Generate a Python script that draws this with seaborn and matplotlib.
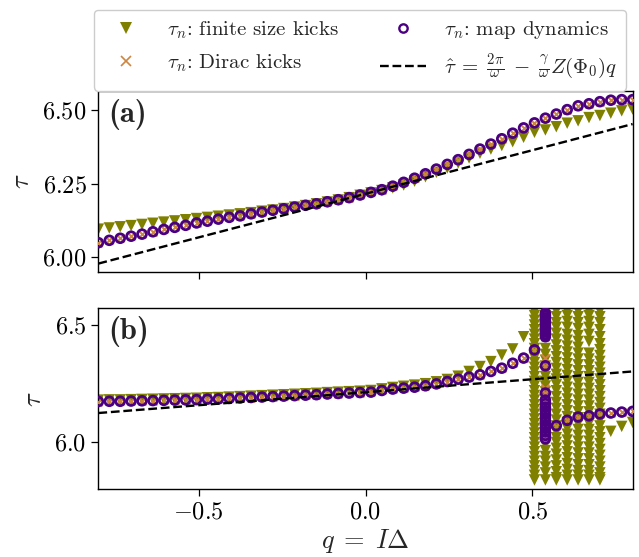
import numpy as np
import pandas as pd
import matplotlib
matplotlib.use("Agg")
import matplotlib.pyplot as plt
from matplotlib.lines import Line2D
from matplotlib.ticker import FixedLocator, FuncFormatter
import seaborn as sns

# ---------------- data ----------------
q = np.round(np.linspace(-0.8, 0.8, 50), 5)

# panel (a)
tau_map_a = [6.049, 6.057, 6.064, 6.071, 6.078, 6.086, 6.094, 6.101, 6.108, 6.116,
             6.122, 6.129, 6.135, 6.140, 6.147, 6.153, 6.159, 6.164, 6.170, 6.176,
             6.181, 6.188, 6.195, 6.202, 6.211, 6.220, 6.229, 6.241, 6.254, 6.268,
             6.283, 6.299, 6.315, 6.331, 6.349, 6.367, 6.384, 6.402, 6.421, 6.439,
             6.456, 6.472, 6.486, 6.501, 6.514, 6.521, 6.528, 6.533, 6.535, 6.535]
tau_dirac_a = list(tau_map_a)
tau_finite_a = [6.095, 6.099, 6.103, 6.107, 6.111, 6.115, 6.119, 6.123, 6.127, 6.131,
                6.135, 6.139, 6.143, 6.147, 6.151, 6.156, 6.160, 6.165, 6.170, 6.175,
                6.181, 6.187, 6.194, 6.202, 6.210, 6.218, 6.226, 6.235, 6.245, 6.258,
                6.273, 6.288, 6.303, 6.320, 6.337, 6.353, 6.367, 6.379, 6.392, 6.407,
                6.424, 6.432, 6.443, 6.455, 6.463, 6.474, 6.481, 6.489, 6.497, 6.503]
q_line = [-0.8, 0.8]
tau_hat_a = [5.978, 6.452]

# panel (b): regular points (q index -> value)
tau_map_b = [6.174, 6.175, 6.175, 6.176, 6.177, 6.178, 6.179, 6.180, 6.181, 6.182,
             6.184, 6.185, 6.187, 6.189, 6.191, 6.193, 6.195, 6.197, 6.199, 6.201,
             6.203, 6.206, 6.208, 6.210, 6.212, 6.214, 6.221, 6.227, 6.231, 6.235,
             6.241, 6.249, 6.259, 6.269, 6.278, 6.288, 6.302, 6.316, 6.337, 6.359,
             6.394, None, 6.071, 6.094, 6.108, 6.113, 6.121, 6.125, 6.129, 6.132]
# multi-valued map dynamics at q index 41
tau_map_b41 = [6.55, 6.54, 6.53, 6.52, 6.51, 6.50, 6.49, 6.48, 6.47, 6.46, 6.45,
               6.326, 6.21, 6.18, 6.165, 6.15, 6.135, 6.12, 6.105, 6.09, 6.075,
               6.06, 6.045, 6.03, 6.015]
tau_dirac_b41 = tau_map_b41 + [6.36, 6.232]

tau_finite_b = [6.180, 6.181, 6.181, 6.182, 6.183, 6.184, 6.185, 6.186, 6.187, 6.188,
                6.190, 6.191, 6.193, 6.195, 6.197, 6.199, 6.201, 6.203, 6.205, 6.207,
                6.209, 6.212, 6.214, 6.216, 6.218, 6.221, 6.228, 6.234, 6.239, 6.244,
                6.250, 6.258, 6.268, 6.282, 6.302, 6.323, 6.344, 6.372, 6.398, 6.450,
                None, None, None, None, None, None, None, 6.047, 6.068, 6.085]
# chaotic finite-size columns at q index 40..46
finite_cols_b = {
    40: [6.56, 6.54, 6.52, 6.50, 6.48, 6.46, 6.44, 6.42, 6.40, 6.38, 6.36, 6.34,
         6.32, 6.30, 6.28, 6.26, 6.24, 6.22, 6.20, 6.18, 6.16, 6.14, 6.12, 6.10,
         6.08, 6.06, 6.04, 6.02, 6.00, 5.98, 5.96, 5.94, 5.92, 5.90, 5.88, 5.86, 5.84],
    41: [6.56, 6.54, 6.515, 6.49, 6.47, 6.45, 6.40, 6.375, 6.35, 6.325, 6.30, 6.28,
         6.26, 6.24, 6.215, 6.19, 6.17, 6.15, 6.125, 6.10, 6.08, 6.06, 6.035, 6.01,
         5.99, 5.965, 5.94, 5.92, 5.895, 5.87, 5.84],
    42: [6.56, 6.535, 6.51, 6.49, 6.465, 6.44, 6.415, 6.39, 6.365, 6.34, 6.315, 6.29,
         6.27, 6.245, 6.22, 6.195, 6.17, 6.145, 6.12, 6.095, 6.07, 6.045, 6.02, 6.0,
         5.975, 5.95, 5.925, 5.90, 5.875, 5.85, 5.84],
    43: [6.56, 6.54, 6.515, 6.49, 6.46, 6.435, 6.41, 6.385, 6.36, 6.335, 6.31, 6.285,
         6.26, 6.235, 6.21, 6.185, 6.16, 6.135, 6.11, 6.085, 6.06, 6.035, 6.01, 5.985,
         5.96, 5.935, 5.91, 5.885, 5.86, 5.84],
    44: [6.56, 6.535, 6.51, 6.485, 6.455, 6.43, 6.405, 6.38, 6.355, 6.33, 6.305, 6.28,
         6.255, 6.23, 6.205, 6.18, 6.155, 6.13, 6.105, 6.08, 6.055, 6.03, 6.005, 5.98,
         5.955, 5.93, 5.905, 5.88, 5.86, 5.84],
    45: [6.56, 6.54, 6.515, 6.49, 6.46, 6.43, 6.38, 6.355, 6.33, 6.305, 6.28, 6.255,
         6.23, 6.205, 6.18, 6.155, 6.13, 6.105, 6.08, 6.055, 6.03, 6.005, 5.98, 5.955,
         5.93, 5.905, 5.88, 5.86, 5.84],
    46: [6.56, 6.535, 6.51, 6.48, 6.45, 6.42, 6.395, 6.37, 6.345, 6.32, 6.295, 6.27,
         6.245, 6.22, 6.195, 6.17, 6.145, 6.12, 6.095, 6.07, 6.045, 6.02, 5.995, 5.97,
         5.945, 5.92, 5.895, 5.87, 5.85, 5.84],
}
tau_hat_b = [6.125, 6.302]

labels = [r"$\tau_n$: finite size kicks", r"$\tau_n$: Dirac kicks",
          r"$\tau_n$: map dynamics",
          r"$\hat{\tau}\;=\;\frac{2\pi}{\omega}\;-\;\frac{\gamma}{\omega}Z(\Phi_0)q$"]

# ---------------- build tables ----------------
def table(values, extra=None):
    rows = [(qq, v) for qq, v in zip(q, values) if v is not None]
    if extra:
        for k, vals in extra.items():
            rows += [(q[k], v) for v in vals]
    return pd.DataFrame(rows, columns=["q", "tau"])

df_fin_a = table(tau_finite_a)
df_dir_a = table(tau_dirac_a)
df_map_a = table(tau_map_a)
df_fin_b = table(tau_finite_b, finite_cols_b)
df_dir_b = table(tau_map_b, {41: tau_dirac_b41})
df_map_b = table(tau_map_b, {41: tau_map_b41})
df_line_a = pd.DataFrame({"q": q_line, "tau": tau_hat_a})
df_line_b = pd.DataFrame({"q": q_line, "tau": tau_hat_b})

# ---------------- style ----------------
sns.set_style("ticks")
plt.rcParams["font.family"] = ["cmr10", "DejaVu Serif"]
plt.rcParams["mathtext.fontset"] = "cm"
plt.rcParams["axes.formatter.use_mathtext"] = True
plt.rcParams["axes.edgecolor"] = "black"

OLIVE = "#808000"
ORANGE = "#CD853F"
PURPLE = "#4B0082"
S_TRI, S_X, S_O = 68, 32, 40

fig = plt.figure(figsize=(6.39, 5.57), dpi=100)
ax1 = fig.add_axes([0.154, 0.512, 0.836, 0.325])
ax2 = fig.add_axes([0.154, 0.1215, 0.836, 0.325])

for ax, dfin, ddir, dmap, dline in [(ax1, df_fin_a, df_dir_a, df_map_a, df_line_a),
                                    (ax2, df_fin_b, df_dir_b, df_map_b, df_line_b)]:
    sns.scatterplot(data=dfin, x="q", y="tau", marker="v", color=OLIVE, s=S_TRI,
                    edgecolor="none", linewidth=0, ax=ax, zorder=2, legend=False)
    sns.scatterplot(data=ddir, x="q", y="tau", marker="x", color=ORANGE, s=S_X,
                    linewidth=1.4, ax=ax, zorder=3, legend=False)
    sns.scatterplot(data=dmap, x="q", y="tau", marker="o", color=PURPLE,
                    facecolor="none", edgecolor=PURPLE, s=S_O, linewidth=2.0,
                    ax=ax, zorder=4, legend=False)
    sns.lineplot(data=dline, x="q", y="tau", color="black", linestyle="--",
                 linewidth=1.7, ax=ax, zorder=5, legend=False)
    ax.set_xlim(-0.8, 0.8)
    ax.xaxis.set_major_locator(FixedLocator([-0.5, 0.0, 0.5]))
    ax.tick_params(labelsize=17.5, length=5, width=0.9, colors="black")
    ax.set_ylabel(r"$\tau$", fontsize=19, labelpad=6)
    for sp in ax.spines.values():
        sp.set_linewidth(1.0)

ax1.set_ylim(5.95, 6.565)
ax1.yaxis.set_major_locator(FixedLocator([6.0, 6.25, 6.5]))
ax1.yaxis.set_major_formatter(FuncFormatter(lambda v, p: f"${v:.2f}$"))
ax1.set_xlabel("")
ax1.set_xticklabels([])

ax2.set_ylim(5.80, 6.571)
ax2.yaxis.set_major_locator(FixedLocator([6.0, 6.5]))
ax2.yaxis.set_major_formatter(FuncFormatter(lambda v, p: f"${v:.1f}$"))
ax2.xaxis.set_major_formatter(FuncFormatter(lambda v, p: f"${v:.1f}$"))
ax2.set_xlabel(r"$q\;=\;I\Delta$", fontsize=19, labelpad=3)

ax1.text(0.018, 0.955, "(a)", transform=ax1.transAxes, ha="left", va="top",
         fontsize=22, family="cmb10")
ax2.text(0.018, 0.955, "(b)", transform=ax2.transAxes, ha="left", va="top",
         fontsize=22, family="cmb10")

handles = [
    Line2D([], [], ls="none", marker="v", color=OLIVE, markersize=8.0,
           markeredgewidth=0),
    Line2D([], [], ls="none", marker="x", color=ORANGE, markersize=6.5,
           markeredgewidth=1.2),
    Line2D([], [], ls="none", marker="o", markerfacecolor="none", markeredgecolor=PURPLE,
           markersize=6.0, markeredgewidth=1.7),
    Line2D([], [], color="black", ls="--", lw=1.7),
]
leg = fig.legend(handles, labels, ncol=2, loc="upper left",
                 bbox_to_anchor=(0.147, 0.982),
                 fontsize=15, handlelength=2.2, handletextpad=0.85, labelspacing=0.55,
                 borderaxespad=0, frameon=True, fancybox=True, framealpha=1,
                 edgecolor="#cccccc", borderpad=0.45, columnspacing=2.0)
leg.get_frame().set_linewidth(1.0)

fig.savefig("out.png", dpi=100)
